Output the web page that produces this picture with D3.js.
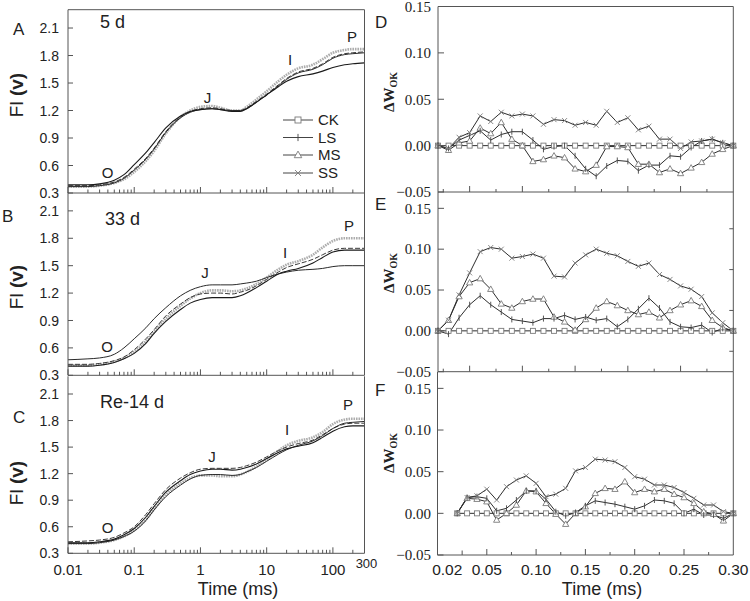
<!DOCTYPE html>
<html><head><meta charset="utf-8">
<script src="https://cdn.jsdelivr.net/npm/d3@7"></script>
<style>body{margin:0;background:#fff} svg{display:block}</style>
</head><body>
<svg id="c" width="750" height="601"></svg>
<script>
// ---------- DATA ----------
const seriesNames = ["CK", "LS", "MS", "SS"];
const fluorTime = [0.01,0.02,0.03,0.05,0.07,0.1,0.15,0.2,0.3,0.5,0.7,1,1.5,2,3,4,5,7,10,15,20,30,50,70,100,150,200,300];

// Panel A (5 d)
const A_CK = [0.38,0.38,0.39,0.42,0.47,0.56,0.68,0.79,0.97,1.13,1.19,1.22,1.23,1.22,1.20,1.20,1.23,1.30,1.38,1.48,1.55,1.62,1.66,1.71,1.78,1.82,1.83,1.84];
const A_LS = [0.39,0.39,0.40,0.44,0.50,0.61,0.74,0.85,1.01,1.14,1.19,1.21,1.22,1.21,1.19,1.19,1.22,1.29,1.37,1.46,1.52,1.57,1.60,1.63,1.67,1.70,1.71,1.72];
const A_MS = [0.37,0.37,0.38,0.41,0.45,0.53,0.65,0.76,0.95,1.13,1.20,1.24,1.25,1.23,1.20,1.20,1.24,1.32,1.41,1.52,1.59,1.66,1.70,1.76,1.83,1.86,1.87,1.87];
const A_SS = [0.37,0.37,0.38,0.41,0.46,0.55,0.67,0.78,0.96,1.12,1.18,1.21,1.22,1.21,1.20,1.20,1.22,1.29,1.37,1.47,1.54,1.61,1.65,1.70,1.77,1.81,1.82,1.83];
// Panel B (33 d)
const B_CK = [0.42,0.42,0.43,0.46,0.50,0.58,0.70,0.80,0.95,1.08,1.15,1.19,1.20,1.20,1.19,1.21,1.23,1.28,1.35,1.43,1.48,1.52,1.57,1.62,1.67,1.69,1.69,1.69];
const B_LS = [0.40,0.40,0.41,0.44,0.48,0.54,0.65,0.76,0.89,1.02,1.09,1.13,1.15,1.15,1.15,1.17,1.20,1.26,1.33,1.41,1.44,1.47,1.53,1.59,1.65,1.67,1.67,1.67];
const B_MS = [0.41,0.41,0.42,0.45,0.49,0.56,0.67,0.78,0.92,1.06,1.14,1.20,1.23,1.23,1.22,1.23,1.25,1.30,1.37,1.46,1.51,1.55,1.62,1.70,1.77,1.80,1.80,1.80];
const B_SS = [0.47,0.48,0.49,0.53,0.60,0.70,0.82,0.92,1.04,1.17,1.23,1.27,1.29,1.29,1.29,1.30,1.31,1.33,1.37,1.41,1.43,1.45,1.46,1.47,1.49,1.50,1.50,1.50];
// Panel C (Re-14 d)
const C_CK = [0.43,0.44,0.45,0.48,0.53,0.60,0.74,0.86,1.02,1.15,1.21,1.25,1.26,1.26,1.26,1.27,1.29,1.33,1.39,1.46,1.50,1.54,1.58,1.64,1.71,1.76,1.77,1.77];
const C_LS = [0.42,0.42,0.43,0.46,0.51,0.58,0.71,0.83,0.99,1.12,1.19,1.23,1.25,1.25,1.24,1.25,1.27,1.31,1.37,1.44,1.48,1.51,1.55,1.61,1.68,1.73,1.74,1.74];
const C_MS = [0.41,0.41,0.42,0.45,0.49,0.56,0.68,0.80,0.96,1.09,1.15,1.18,1.18,1.17,1.17,1.19,1.22,1.28,1.36,1.46,1.52,1.57,1.61,1.67,1.76,1.81,1.82,1.82];
const C_SS = [0.41,0.41,0.42,0.45,0.49,0.55,0.67,0.79,0.94,1.07,1.14,1.18,1.19,1.19,1.18,1.19,1.22,1.27,1.34,1.42,1.47,1.52,1.57,1.63,1.71,1.77,1.78,1.79];

const fluorTicks = [0.3,0.6,0.9,1.2,1.5,1.8,2.1];
const timeTickLabels = ["0.01","0.1","1","10","100"];

// ΔW_OK panels
const dwTime = [0.02,0.03,0.04,0.05,0.06,0.07,0.08,0.09,0.10,0.11,0.12,0.13,0.14,0.15,0.16,0.17,0.18,0.19,0.20,0.21,0.22,0.23,0.24,0.25,0.26,0.27,0.28,0.29,0.30];
const D_CK = [0,0,0,0,0,0,0,0,0,0,0,0,0,0,0,0,0,0,0,0,0,0,0,0,0,0,0,0,0];
const D_LS = [0,-0.003,0.006,0.011,0.016,0.006,0.012,0.015,0.015,0.006,-0.004,-0.001,0.000,-0.011,-0.025,-0.033,-0.022,-0.016,-0.017,-0.027,-0.021,-0.021,-0.011,-0.012,-0.002,0.005,0.007,0.003,0];
const D_MS = [0,-0.005,0.003,0.005,0.019,0.013,0.025,0.007,0.000,-0.017,-0.015,-0.011,-0.013,-0.025,-0.028,-0.021,-0.001,-0.001,-0.002,-0.020,-0.020,-0.029,-0.025,-0.030,-0.024,-0.018,-0.009,-0.004,0];
const D_SS = [0,-0.003,0.009,0.014,0.032,0.026,0.036,0.032,0.034,0.032,0.023,0.028,0.027,0.022,0.025,0.022,0.037,0.025,0.030,0.017,0.021,0.007,0.007,-0.003,0.004,0.005,0.007,0.003,0];
const E_CK = [0,0,0,0,0,0,0,0,0,0,0,0,0,0,0,0,0,0,0,0,0,0,0,0,0,0,0,0,0];
const E_LS = [0,-0.004,0.016,0.032,0.043,0.032,0.023,0.014,0.012,0.010,0.015,0.015,0.019,0.014,0.017,0.013,0.015,0.005,0.014,0.027,0.040,0.028,0.011,0.005,0.004,0.007,-0.002,0.003,0];
const E_MS = [0,0.013,0.042,0.059,0.064,0.051,0.033,0.028,0.036,0.039,0.039,0.017,0.011,0.001,0.014,0.028,0.036,0.031,0.025,0.020,0.023,0.016,0.025,0.032,0.037,0.030,0.013,0.004,0];
const E_SS = [0,0.013,0.044,0.071,0.097,0.102,0.100,0.089,0.091,0.094,0.089,0.067,0.066,0.083,0.093,0.100,0.095,0.092,0.085,0.079,0.083,0.069,0.063,0.055,0.051,0.042,0.022,0.010,0];
const F_CK = [0,0,0,0,0,0,0,0,0,0,0,0,0,0,0,0,0,0,0,0,0,0,0,0,0,0,0,0,0];
const F_LS = [0,0.019,0.020,0.018,0.003,0.006,0.016,0.027,0.027,0.017,0.002,-0.003,0.001,0.009,0.015,0.013,0.011,0.008,0.005,0.009,0.016,0.015,0.012,0,0.005,-0.002,-0.002,-0.006,0];
const F_MS = [0,0.018,0.017,0.014,-0.008,0,0.010,0.027,0.026,0.012,-0.001,-0.013,0,0.008,0.024,0.030,0.029,0.038,0.025,0.029,0.026,0.029,0.023,0.019,0.012,0.002,-0.001,-0.009,0];
const F_SS = [0,0.019,0.021,0.029,0.016,0.032,0.040,0.045,0.036,0.020,0.023,0.030,0.051,0.055,0.065,0.064,0.062,0.055,0.044,0.041,0.034,0.034,0.031,0.025,0.018,0.010,0.010,0.002,0];
const dwTicks = [-0.05,0,0.05,0.10,0.15];
const dwXLabels = ["0.02","0.05","0.10","0.15","0.20","0.25","0.30"];

// ---------- DRAWING ----------
const svg = d3.select("#c");
const SANS = "Liberation Sans, Arial, sans-serif";
const SERIF = "Liberation Serif, Times New Roman, serif";
const AX = "#555";

const xL = d3.scaleLog().domain([0.01, 300]).range([68, 364.5]);

const leftPanels = [
  {id:"A", title:"5 d", range:[193, 9.7], top:true, data:{CK:A_CK,LS:A_LS,MS:A_MS,SS:A_SS},
   letter:[13,35], titleXY:[100,28], flY:95,
   ojip:[["O",107.5,178],["J",207.5,103],["I",290,65],["P",352,42]]},
  {id:"B", title:"33 d", range:[375.3, 192.6], top:false, data:{CK:B_CK,LS:B_LS,MS:B_MS,SS:B_SS},
   letter:[2,222], titleXY:[105,225], flY:287,
   ojip:[["O",107,352],["J",205,278],["I",285,258],["P",349,231]]},
  {id:"C", title:"Re-14 d", range:[553.3, 376.3], top:false, data:{CK:C_CK,LS:C_LS,MS:C_MS,SS:C_SS},
   letter:[13,423], titleXY:[100,408], flY:483,
   ojip:[["O",107.5,533],["J",212,462],["I",287,435],["P",348,410]]}
];

const leftStyles = {
  MS:{stroke:"#adadad", w:2.6, dash:"1.6,0.9"},
  CK:{stroke:"#3a3a3a", w:1, dash:"5,2"},
  SS:{stroke:"#2a2a2a", w:1, dash:null},
  LS:{stroke:"#1a1a1a", w:1.1, dash:null}
};

leftPanels.forEach((p, pi) => {
  const y = d3.scaleLinear().domain([0.3, 2.3]).range(p.range);
  const g = svg.append("g");
  const [x0, x1] = xL.range();
  const yb = p.range[0], yt = p.range[1];
  const line = d3.line().x((d,i)=>xL(fluorTime[i])).y(d=>y(d)).curve(d3.curveMonotoneX);
  ["MS","CK","SS","LS"].forEach(s => {
    const st = leftStyles[s];
    g.append("path").attr("d", line(p.data[s])).attr("fill","none")
      .attr("stroke", st.stroke).attr("stroke-width", st.w)
      .attr("stroke-dasharray", st.dash);
  });
  g.append("line").attr("x1",x0).attr("x2",x0).attr("y1",yb).attr("y2",yt).attr("stroke",AX);
  g.append("line").attr("x1",x1).attr("x2",x1).attr("y1",yb).attr("y2",yt).attr("stroke",AX);
  g.append("line").attr("x1",x0).attr("x2",x1).attr("y1",yb).attr("y2",yb).attr("stroke",AX);
  if (p.top) g.append("line").attr("x1",x0).attr("x2",x1).attr("y1",yt).attr("y2",yt).attr("stroke",AX);
  const minor = [];
  [0.01,0.1,1,10,100].forEach(dec => { for (let k=1;k<=9;k++){ const v=dec*k; if (v<300) minor.push([v, k===1]); } });
  minor.forEach(([v, maj]) => {
    g.append("line").attr("x1",xL(v)).attr("x2",xL(v)).attr("y1",yb).attr("y2",yb-(maj?6:3.5))
      .attr("stroke",AX);
  });
  fluorTicks.forEach(v => {
    g.append("line").attr("x1",x0).attr("x2",x0+5).attr("y1",y(v)).attr("y2",y(v)).attr("stroke",AX);
    g.append("text").attr("x",59).attr("y",y(v)).attr("dy","0.36em").attr("text-anchor","end")
      .attr("font-family",SANS).attr("font-size",14).attr("fill","#222").text(d3.format(".1f")(v));
  });
  g.append("text").attr("x",p.letter[0]).attr("y",p.letter[1]).attr("font-family",SANS)
    .attr("font-size",17).attr("fill","#222").text(p.id);
  g.append("text").attr("x",p.titleXY[0]).attr("y",p.titleXY[1]).attr("font-family",SANS)
    .attr("font-size",18).attr("fill","#222").text(p.title);
  p.ojip.forEach(([t,x,yy]) => {
    g.append("text").attr("x",x).attr("y",yy).attr("text-anchor","middle").attr("font-family",SANS)
      .attr("font-size",15).attr("fill","#222").text(t);
  });
  const yl = g.append("text").attr("transform",`translate(23,${p.flY}) rotate(-90)`)
    .attr("text-anchor","middle").attr("font-family",SANS).attr("font-size",19).attr("fill","#222");
  yl.append("tspan").text("Fl ");
  yl.append("tspan").attr("font-weight","bold").text("(v)");
  if (pi === 2) {
    [0.01,0.1,1,10,100].forEach((v,i) => {
      g.append("text").attr("x",xL(v)).attr("y",575).attr("text-anchor","middle")
        .attr("font-family",SANS).attr("font-size",15).attr("fill","#222").text(timeTickLabels[i]);
    });
    g.append("text").attr("x",xL(300)+2).attr("y",568).attr("text-anchor","middle")
      .attr("font-family",SANS).attr("font-size",13).attr("fill","#222").text("300");
    g.append("text").attr("x",238).attr("y",595).attr("text-anchor","middle")
      .attr("font-family",SANS).attr("font-size",18).attr("fill","#222").text("Time (ms)");
  }
});

function drawMarker(g, type, x, y, s) {
  s = s || 5;
  const col = "#7a7a7a";
  if (type === "CK") {
    g.append("rect").attr("x",x-s/2).attr("y",y-s/2).attr("width",s).attr("height",s)
      .attr("fill","#fff").attr("stroke",col).attr("stroke-width",0.9);
  } else if (type === "LS") {
    g.append("line").attr("x1",x).attr("x2",x).attr("y1",y-s*0.6).attr("y2",y+s*0.6)
      .attr("stroke","#444").attr("stroke-width",0.9);
  } else if (type === "MS") {
    const h = s*1.0, w = s*1.25;
    g.append("path").attr("d",`M${x},${y-h*0.65}L${x+w/2},${y+h*0.45}L${x-w/2},${y+h*0.45}Z`)
      .attr("fill","#fff").attr("stroke",col).attr("stroke-width",0.9);
  } else {
    const r = s*0.5;
    g.append("path").attr("d",`M${x-r},${y-r}L${x+r},${y+r}M${x-r},${y+r}L${x+r},${y-r}`)
      .attr("stroke",col).attr("stroke-width",0.9).attr("fill","none");
  }
}
const legY = [120, 137.5, 155, 173];
seriesNames.forEach((s,i) => {
  const lg = svg.append("g");
  lg.append("line").attr("x1",283).attr("x2",313).attr("y1",legY[i]).attr("y2",legY[i])
    .attr("stroke","#444").attr("stroke-width",1);
  drawMarker(lg, s, 298, legY[i], 6);
  lg.append("text").attr("x",318).attr("y",legY[i]).attr("dy","0.36em").attr("font-family",SANS)
    .attr("font-size",15).attr("fill","#222").text(s);
});

const rightPanels = [
  {id:"D", xDom:[0.02,0.30], xRange:[438,733.3], yDom:[-0.05,0.15], yRange:[192,6.5], top:true,
   data:{CK:D_CK,LS:D_LS,MS:D_MS,SS:D_SS}, letterY:28, lblY:92, rightMinor:false},
  {id:"E", xDom:[0.02,0.30], xRange:[438,733.3], yDom:[-0.05,0.17], yRange:[371.7,192], top:false,
   data:{CK:E_CK,LS:E_LS,MS:E_MS,SS:E_SS}, letterY:210, lblY:273, rightMinor:true},
  {id:"F", xDom:[0,0.30], xRange:[437.5,733.3], yDom:[-0.05,0.17], yRange:[555,371.7], top:false,
   data:{CK:F_CK,LS:F_LS,MS:F_MS,SS:F_SS}, letterY:396, lblY:453, rightMinor:false}
];

rightPanels.forEach((p, pi) => {
  const x = d3.scaleLinear().domain(p.xDom).range(p.xRange);
  const y = d3.scaleLinear().domain(p.yDom).range(p.yRange);
  const g = svg.append("g");
  const [x0,x1] = p.xRange, yb = p.yRange[0], yt = p.yRange[1];
  const line = d3.line().x((d,i)=>x(dwTime[i])).y(d=>y(d));
  ["CK","MS","LS","SS"].forEach(s => {
    g.append("path").attr("d", line(p.data[s])).attr("fill","none")
      .attr("stroke","#2e2e2e").attr("stroke-width",1);
  });
  ["CK","MS","LS","SS"].forEach(s => {
    p.data[s].forEach((v,i) => drawMarker(g, s, x(dwTime[i]), y(v), 5));
  });
  g.append("line").attr("x1",x0).attr("x2",x0).attr("y1",yb).attr("y2",yt).attr("stroke",AX);
  g.append("line").attr("x1",x1).attr("x2",x1).attr("y1",yb).attr("y2",yt).attr("stroke",AX);
  g.append("line").attr("x1",x0).attr("x2",x1).attr("y1",yb).attr("y2",yb).attr("stroke",AX);
  if (p.top) g.append("line").attr("x1",x0).attr("x2",x1).attr("y1",yt).attr("y2",yt).attr("stroke",AX);
  const majT = [0.05,0.10,0.15,0.20,0.25];
  const minT = [0.025,0.075,0.125,0.175,0.225,0.275];
  majT.forEach(v => g.append("line").attr("x1",x(v)).attr("x2",x(v)).attr("y1",yb).attr("y2",yb-6).attr("stroke",AX));
  minT.forEach(v => g.append("line").attr("x1",x(v)).attr("x2",x(v)).attr("y1",yb).attr("y2",yb-(pi===2&&v===0.025?4.5:3)).attr("stroke",AX));
  dwTicks.forEach(v => {
    g.append("line").attr("x1",x0).attr("x2",x0+6).attr("y1",y(v)).attr("y2",y(v)).attr("stroke",AX);
    g.append("text").attr("x",431).attr("y",y(v)).attr("dy","0.35em").attr("text-anchor","end")
      .attr("font-family",SERIF).attr("font-size",15).attr("fill","#222").text(d3.format(".2f")(v));
  });
  if (p.rightMinor) {
    [-0.025,0.025,0.075,0.125].forEach(v => g.append("line").attr("x1",x1).attr("x2",x1-4)
      .attr("y1",y(v)).attr("y2",y(v)).attr("stroke",AX));
  }
  g.append("text").attr("x",375).attr("y",p.letterY).attr("font-family",SANS).attr("font-size",17)
    .attr("fill","#222").text(p.id);
  const yl = g.append("text").attr("transform",`translate(394,${p.lblY}) rotate(-90)`)
    .attr("text-anchor","middle").attr("font-family",SERIF).attr("font-weight","bold")
    .attr("font-size",15).attr("fill","#222");
  yl.append("tspan").text("ΔW");
  yl.append("tspan").attr("font-size",10).attr("dy",3).text("OK");
  if (pi === 2) {
    const pos = [0.02,0.05,0.10,0.15,0.20,0.25,0.30];
    pos.forEach((v,i) => {
      const xx = i === 0 ? x(v) - 10 : x(v);
      g.append("text").attr("x",xx).attr("y",575).attr("text-anchor","middle")
        .attr("font-family",SANS).attr("font-size",15.5).attr("fill","#222").text(dwXLabels[i]);
    });
    g.append("text").attr("x",602).attr("y",595).attr("text-anchor","middle")
      .attr("font-family",SANS).attr("font-size",18).attr("fill","#222").text("Time (ms)");
  }
});
</script>
</body></html>
